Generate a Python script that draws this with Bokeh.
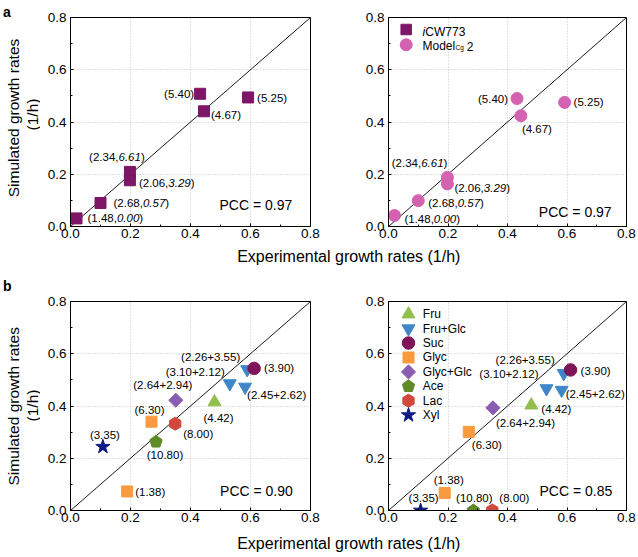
import math
from bokeh.plotting import figure
from bokeh.models import Range1d, FixedTicker, PrintfTickFormatter, Label, ColumnDataSource
from bokeh.layouts import column, row
from bokeh.core.properties import value, field
from bokeh.embed import file_html
from bokeh.resources import INLINE

FONT = "Liberation Sans"

# ---------------- data ----------------
TICKS = [0.0, 0.2, 0.4, 0.6, 0.8]
MINOR_TICKS = [0.1, 0.3, 0.5, 0.7]
DIAG = [0.0, 0.8]

# panel a (shared experimental rates)
exp_a = [0.02, 0.10, 0.198, 0.198, 0.432, 0.445, 0.592]
sim_icw773 = [0.031, 0.09, 0.209, 0.177, 0.508, 0.441, 0.494]
sim_modelcg2 = [0.042, 0.099, 0.188, 0.163, 0.49, 0.424, 0.475]
labels_a = ["(1.48,0.00)", "(2.68,0.57)", "(2.34,6.61)", "(2.06,3.29)",
            "(5.40)", "(4.67)", "(5.25)"]

# panel b
substrates = ["Fru", "Fru+Glc", "Suc", "Glyc", "Glyc+Glc", "Ace", "Lac", "Xyl"]
sub_b = ["Fru", "Fru+Glc", "Fru+Glc", "Fru+Glc", "Suc", "Glyc", "Glyc",
         "Glyc+Glc", "Ace", "Lac", "Xyl"]
exp_b = [0.48, 0.531, 0.582, 0.589, 0.612, 0.189, 0.27, 0.351, 0.285, 0.349, 0.108]
sim_b_icw773 = [0.415, 0.486, 0.473, 0.54, 0.544, 0.073, 0.34, 0.422, 0.263, 0.332, 0.244]
sim_b_modelcg2 = [0.403, 0.467, 0.461, 0.525, 0.538, 0.067, 0.301, 0.393, 0.0, 0.0, 0.0]
labels_b = ["(4.42)", "(3.10+2.12)", "(2.45+2.62)", "(2.26+3.55)", "(3.90)",
            "(1.38)", "(6.30)", "(2.64+2.94)", "(10.80)", "(8.00)", "(3.35)"]

pcc_values = ["0.97", "0.97", "0.90", "0.85"]

X_LABEL = "Experimental growth rates (1/h)"
Y_LABEL_1 = "Simulated growth rates"
Y_LABEL_2 = "(1/h)"

# ---------------- styles ----------------
COL_ICW = "#7d1667"
COL_CG2 = "#d561b1"
COLORS = {"Fru": "#92be4e", "Fru+Glc": "#3f86c9", "Suc": "#7f1459", "Glyc": "#fa9a3e",
          "Glyc+Glc": "#8b5db1", "Ace": "#5e8a28", "Lac": "#d3483d", "Xyl": "#0c1a85"}
MARKERS = {"Fru": ("triangle", 13, 0.0), "Fru+Glc": ("inverted_triangle", 13, 0.0),
           "Suc": ("circle", 12.5, 0.0), "Glyc": ("square", 11, 0.0),
           "Glyc+Glc": ("square", 10, math.pi / 4), "Ace": ("pentagon", 13, 0.0),
           "Lac": ("hex", 13, math.pi / 2), "Xyl": ("star", 15, 0.0)}

# label placement (align, dx px, dy px downwards)
place_a_left = [("left", 11, 0), ("left", 13, 0), ("center", -13, -15), ("left", 9, 3),
                ("right", -6, 0), ("left", 7, 4), ("left", 9, 1)]
place_a_right = [("left", 10, 3), ("left", 10, 2), ("right", 0, -14), ("left", 7, 4),
                 ("right", -9, 1), ("left", 1, 13), ("left", 9, 0)]
place_b_left = [("center", 4, 16), ("right", -5, -12), ("left", 2, 8), ("right", -7, -12),
                ("left", 10, 0), ("left", 8, 1), ("center", -2, -12), ("center", -13, -15),
                ("center", 9, 13), ("left", 8, 10), ("center", 2, -12)]
place_b_right = [("left", 10, 4), ("right", -8, -14), ("left", 4, 4), ("right", -9, -13),
                 ("left", 10, 1), ("center", 4, -13), ("left", 3, 13), ("left", 3, 15),
                 ("center", 1, -13), ("left", 7, -13), ("center", 3, -13)]

LABEL_PX = 11.5
# Arial / Liberation Sans advance widths (em) for the characters used in point labels
CHAR_W = {"(": 0.333, ")": 0.333, ",": 0.278, ".": 0.278, "+": 0.584}

FRAME_H = 209
PX_Y = FRAME_H / 0.8
PX_L = 240 / 0.8
PX_R = 238 / 0.8
TOTAL_H = 554


def text_w(s):
    return sum(CHAR_W.get(c, 0.556) for c in s) * LABEL_PX


def make_panel(width, height, bl, br, bt, bb):
    p = figure(width=width, height=height, x_range=Range1d(0, 0.8), y_range=Range1d(0, 0.8),
               min_border_left=bl, min_border_right=br, min_border_top=bt, min_border_bottom=bb,
               title=None, toolbar_location=None, output_backend="svg")
    p.background_fill_color = "white"
    p.border_fill_color = "white"
    ticker = FixedTicker(ticks=TICKS, minor_ticks=MINOR_TICKS)
    for ax in (p.xaxis[0], p.yaxis[0]):
        ax.ticker = ticker
        ax.formatter = PrintfTickFormatter(format="%.1f")
        ax.major_label_text_font = FONT
        ax.major_label_text_font_size = "13.5px"
        ax.major_label_text_color = "black"
        ax.axis_line_color = "black"
        ax.major_tick_in = 3
        ax.major_tick_out = 0
        ax.minor_tick_in = 2
        ax.minor_tick_out = 0
        ax.major_tick_line_color = "black"
        ax.minor_tick_line_color = "black"
    p.xaxis[0].major_label_standoff = 2
    p.yaxis[0].major_label_standoff = 4
    p.xgrid.ticker = ticker
    p.ygrid.ticker = ticker
    p.grid.grid_line_color = "#c4c4c4"
    p.grid.grid_line_dash = "1 2"
    p.grid.grid_line_width = 1
    p.outline_line_color = "black"
    p.outline_line_alpha = 1.0
    p.outline_line_width = 1
    p.line(DIAG, DIAG, line_color="black", line_width=0.9)
    return p


def draw_marker(p, xs, ys, name, color, px_x):
    kind, sz, ang = MARKERS[name]
    if kind == "pentagon":
        r = sz / 2
        pxs, pys = [], []
        for x0, y0 in zip(xs, ys):
            pxs.append([x0 + r * math.cos(math.pi / 2 + 2 * math.pi * k / 5) / px_x for k in range(5)])
            pys.append([y0 + r * math.sin(math.pi / 2 + 2 * math.pi * k / 5) / PX_Y for k in range(5)])
        p.patches(xs=pxs, ys=pys, fill_color=color, line_color=color)
    else:
        p.scatter(x=xs, y=ys, marker=kind, size=sz, angle=ang,
                  fill_color=color, line_color=color)


def add_point_labels(p, xs, ys, texts, place):
    """Labels; in '(a,b)' labels the second number is set in italics."""
    seg = {"x": [], "y": [], "text": [], "dx": [], "dy": [], "style": []}
    for x0, y0, t, (al, dx, dy) in zip(xs, ys, texts, place):
        if "," in t:
            a, b = t[1:-1].split(",")
            parts = [("(" + a + ",", "normal"), (b, "italic"), (")", "normal")]
        else:
            parts = [(t, "normal")]
        total = sum(text_w(s) for s, _ in parts)
        start = dx if al == "left" else (dx - total / 2 if al == "center" else dx - total)
        for s, st in parts:
            seg["x"].append(x0)
            seg["y"].append(y0)
            seg["text"].append(s)
            seg["dx"].append(start)
            seg["dy"].append(dy)
            seg["style"].append(st)
            start += text_w(s)
    src = ColumnDataSource(seg)
    p.text(x="x", y="y", text="text", source=src, text_align="left",
           x_offset=field("dx"), y_offset=field("dy"), text_baseline="middle",
           text_font_style=field("style"),
           text_font=value(FONT), text_font_size=f"{LABEL_PX}px", text_color="black")


def add_pcc(p, x, y, val):
    p.add_layout(Label(x=x, y=y, text="PCC = " + val, text_align="right",
                       text_baseline="middle", text_font=FONT, text_font_size="14px",
                       text_color="black"))


def blank(width, height):
    s = figure(width=width, height=height, x_range=Range1d(0, width), y_range=Range1d(0, height),
               x_axis_location=None, y_axis_location=None, min_border=0, title=None,
               toolbar_location=None, output_backend="svg")
    s.grid.visible = False
    s.outline_line_color = None
    s.background_fill_color = "white"
    s.border_fill_color = "white"
    return s


def ylabel_text(s, c1, c2):
    s.add_layout(Label(x=12.5, y=TOTAL_H - c1, text=Y_LABEL_1, angle=math.pi / 2,
                       text_align="center", text_baseline="alphabetic", text_font=FONT,
                       text_font_size="15.5px", text_color="black"))
    s.add_layout(Label(x=32, y=TOTAL_H - c2, text=Y_LABEL_2, angle=math.pi / 2,
                       text_align="center", text_baseline="alphabetic", text_font=FONT,
                       text_font_size="15.5px", text_color="black"))


def panel_letter(s, letter, base):
    s.add_layout(Label(x=2.5, y=TOTAL_H - base, text=letter, text_align="left",
                       text_baseline="alphabetic", text_font=FONT, text_font_size="14px",
                       text_font_style="bold", text_color="black"))


def xlabel_strip(height, base_from_top):
    s = blank(596, height)
    s.add_layout(Label(x=308.3, y=height - base_from_top, text=X_LABEL, text_align="center",
                       text_baseline="alphabetic", text_font=FONT, text_font_size="16px",
                       text_color="black"))
    return s


# ---------------- left strip: panel letters and y-axis titles ----------------
ys = blank(40, TOTAL_H)
ylabel_text(ys, 117.5, 114)
ylabel_text(ys, 405.8, 405)
panel_letter(ys, "a", 11.7)
panel_letter(ys, "b", 285)

# ---------------- panel a ----------------
fa1 = make_panel(286, 244, 30, 16, 17, 18)
fa1.scatter(x=exp_a, y=sim_icw773, marker="square", size=11, fill_color=COL_ICW, line_color=COL_ICW)
add_point_labels(fa1, exp_a, sim_icw773, labels_a, place_a_left)
add_pcc(fa1, 0.739, 0.084, pcc_values[0])

fa2 = make_panel(310, 244, 62, 10, 17, 18)
fa2.scatter(x=exp_a, y=sim_modelcg2, marker="circle", size=12, fill_color=COL_CG2, line_color=COL_CG2)
add_point_labels(fa2, exp_a, sim_modelcg2, labels_a, place_a_right)
add_pcc(fa2, 0.75, 0.057, pcc_values[1])

# legend of panel a (manual, to allow italic / subscript)
lx_m = (405.7 - 388) / PX_R
lx_t = (422 - 388) / PX_R
leg_y1 = (226 - 29) / PX_Y
leg_y2 = (226 - 44.3) / PX_Y
fa2.scatter(x=[lx_m], y=[leg_y1], marker="square", size=10.5, fill_color=COL_ICW, line_color=COL_ICW)
fa2.scatter(x=[lx_m], y=[leg_y2], marker="circle", size=12, fill_color=COL_CG2, line_color=COL_CG2)
b1 = (226 - 31.7) / PX_Y
b2 = (226 - 45.7) / PX_Y
fa2.add_layout(Label(x=lx_t, y=b1, text="i", text_font=FONT, text_font_size="12px",
                     text_font_style="italic", text_baseline="alphabetic", text_color="black"))
fa2.add_layout(Label(x=lx_t + 2.8 / PX_R, y=b1, text="CW773", text_font=FONT, text_font_size="12px",
                     text_baseline="alphabetic", text_color="black"))
fa2.add_layout(Label(x=lx_t, y=b2, text="Model", text_font=FONT, text_font_size="12px",
                     text_baseline="alphabetic", text_color="black"))
fa2.add_layout(Label(x=lx_t + 33.0 / PX_R, y=b2 - 1.6 / PX_Y, text="Cg", text_font=FONT,
                     text_font_size="6.5px", text_baseline="alphabetic", text_color="black"))
fa2.add_layout(Label(x=lx_t + 44.3 / PX_R, y=b2, text="2", text_font=FONT, text_font_size="12px",
                     text_baseline="alphabetic", text_color="black"))

sa = xlabel_strip(22, 11.5)

# ---------------- panel b ----------------
fb1 = make_panel(286, 262, 30, 16, 35, 18)
fb2 = make_panel(310, 262, 62, 10, 35, 18)
for name in substrates:
    idx = [i for i, s in enumerate(sub_b) if s == name]
    draw_marker(fb1, [exp_b[i] for i in idx], [sim_b_icw773[i] for i in idx], name, COLORS[name], PX_L)
    draw_marker(fb2, [exp_b[i] for i in idx], [sim_b_modelcg2[i] for i in idx], name, COLORS[name], PX_R)
add_point_labels(fb1, exp_b, sim_b_icw773, labels_b, place_b_left)
add_point_labels(fb2, exp_b, sim_b_modelcg2, labels_b, place_b_right)
add_pcc(fb1, 0.741, 0.073, pcc_values[2])
add_pcc(fb2, 0.752, 0.074, pcc_values[3])

# legend of panel b
bx_m = (408 - 388) / PX_R
bx_t = (422.3 - 388) / PX_R
for k, name in enumerate(substrates):
    yy = (510 - (313.7 + 14.42 * k)) / PX_Y
    draw_marker(fb2, [bx_m], [yy], name, COLORS[name], PX_R)
    fb2.add_layout(Label(x=bx_t, y=yy, text=name, text_font=FONT, text_font_size="12px",
                         text_baseline="middle", text_color="black"))

sb = xlabel_strip(26, 14.5)

layout = row(ys, column(row(fa1, fa2), sa, row(fb1, fb2), sb))
open("out.html", "w").write(file_html(layout, INLINE))
